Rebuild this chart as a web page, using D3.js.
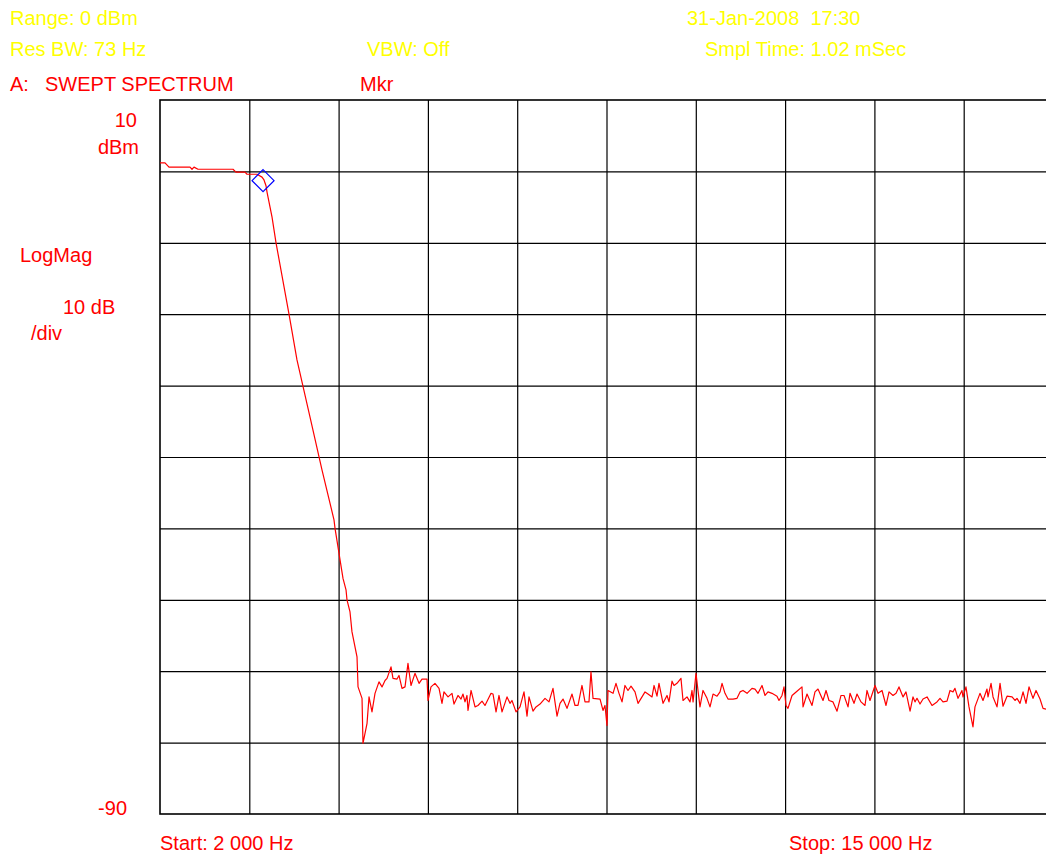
<!DOCTYPE html>
<html>
<head>
<meta charset="utf-8">
<script src="https://cdn.jsdelivr.net/npm/d3@7"></script>
<style>
  body { margin: 0; background: #fff; overflow: hidden; }
  text { font-family: "Liberation Sans", Arial, sans-serif; font-size: 20px; white-space: pre; }
</style>
</head>
<body>
<div id="graphic_area"></div>
<script>
// trace
let freqHz = [2000, 2015, 2073, 2131, 2437, 2466, 2495, 2553, 3063, 3106, 3237, 3267, 3412, 3485, 3514, 3543, 3558, 3631, 3689, 3878, 3994, 4184, 4358, 4533, 4548, 4664, 4708, 4722, 4766, 4795, 4868, 4883, 4941, 4955,
  5014, 5043, 5086, 5130, 5188, 5232, 5276, 5305, 5363, 5392, 5450, 5479, 5523, 5567, 5610, 5654, 5712, 5771, 5814, 5887, 5902, 5945, 6003, 6062, 6105, 6134, 6193, 6251, 6280, 6338, 6382, 6411, 6440, 6469, 6484, 6528, 6586, 6629, 6688, 6731, 6819, 6848, 6892, 6935, 6979,
  7052, 7095, 7124, 7183, 7241, 7299, 7343, 7372, 7430, 7474, 7532, 7605, 7663, 7721, 7780, 7823, 7867, 7925, 7998, 8042, 8085, 8143, 8187, 8245, 8274, 8304, 8406, 8449, 8478, 8507, 8522, 8595, 8638, 8682, 8726, 8769, 8813, 8857, 8915, 8959,
  9017, 9061, 9104, 9163, 9192, 9235, 9264, 9323, 9381, 9410, 9454, 9483, 9526, 9584, 9614, 9672, 9716, 9745, 9760, 9803, 9832, 9861, 9905, 9963, 10007, 10051, 10109, 10153, 10182, 10225, 10269, 10342, 10400, 10444, 10487, 10546, 10618, 10662, 10706, 10764, 10808, 10851, 10909, 10982,
  11011, 11055, 11084, 11113, 11142, 11201, 11273, 11346, 11361, 11419, 11492, 11535, 11579, 11652, 11696, 11739, 11797, 11856, 11914, 11958, 12016, 12045, 12103, 12147, 12205, 12263, 12292, 12336, 12409, 12453, 12511, 12569, 12613, 12671, 12715, 12758, 12817, 12860, 12919, 12962, 12991,
  13020, 13064, 13108, 13166, 13239, 13311, 13355, 13399, 13457, 13501, 13544, 13573, 13617, 13675, 13690, 13733, 13777, 13835, 13864, 13937, 13981, 14039, 14054, 14098, 14127, 14185, 14229, 14272, 14331, 14404, 14447, 14476, 14520, 14564, 14607, 14651, 14709, 14753, 14811, 14855, 14898, 15000];

let levelDbm = [1.2, 1.2, 1.2, 0.6, 0.6, 0.3, 0.6, 0.3, 0.3, -0.1, -0.1, -0.4, -0.4, -0.8, -1.2, -2.0, -2.9, -6.4, -10.0, -20.0, -26.4, -34.4, -41.8, -48.8, -50.0, -57.0, -58.6, -60.0, -61.7, -64.5, -68.0, -72.2, -73.8, -80.1,
  -77.3, -73.6, -75.7, -73.1, -71.5, -72.2, -71.3, -71.0, -69.4, -71.0, -71.1, -70.6, -72.4, -72.2, -68.9, -72.0, -70.3, -71.7, -71.1, -71.1, -74.1, -72.2, -71.7, -72.4, -74.5, -72.9, -73.6, -73.1, -74.6, -73.4, -73.9, -73.2, -74.3, -73.4, -75.5, -72.7, -75.0, -74.8, -74.2, -74.8, -73.1, -73.2, -75.7, -73.4, -75.7,
  -73.6, -74.5, -74.1, -75.7, -75.0, -72.9, -76.3, -73.6, -75.6, -75.0, -74.6, -73.8, -74.3, -72.4, -76.3, -74.5, -73.9, -75.2, -73.2, -74.8, -74.8, -72.0, -74.3, -74.3, -70.1, -73.8, -73.9, -75.5, -74.8, -77.6, -72.7, -73.1, -71.7, -73.1, -74.3, -72.0, -72.7, -72.1, -72.9, -74.5,
  -73.6, -72.9, -73.2, -73.6, -72.0, -73.5, -71.7, -74.5, -73.4, -74.3, -71.4, -72.0, -71.7, -71.0, -74.1, -73.6, -74.3, -72.7, -74.3, -70.3, -72.7, -75.0, -72.7, -73.8, -75.0, -73.2, -73.5, -72.9, -71.7, -73.1, -73.9, -73.9, -73.8, -72.9, -72.7, -73.1, -72.4, -72.5, -73.1, -72.0, -73.4, -72.9, -73.1, -73.5,
  -74.1, -73.4, -72.2, -74.8, -75.2, -73.4, -72.8, -72.2, -75.0, -73.2, -74.8, -72.9, -72.5, -74.1, -72.7, -74.1, -74.3, -75.6, -73.4, -73.4, -75.0, -73.1, -74.5, -73.2, -74.3, -74.8, -72.7, -74.1, -72.0, -73.1, -72.7, -74.8, -72.9, -73.4, -73.1, -72.2, -73.6, -72.9, -75.6, -73.6, -74.3,
  -73.8, -74.6, -73.9, -73.6, -74.8, -74.3, -73.8, -74.3, -74.2, -72.7, -72.9, -72.4, -73.8, -72.7, -73.6, -72.2, -75.0, -77.8, -75.0, -73.1, -74.1, -72.5, -73.6, -71.7, -73.6, -75.0, -71.7, -74.9, -73.5, -73.6, -74.1, -73.8, -74.5, -72.9, -74.5, -72.2, -73.8, -72.7, -73.9, -75.2, -75.3, -75.3];

let markerHz = 3500;
let markerDbm = -1.3;

let startHz = 2000;
let stopHz = 15000;
let refDbm = 10;
let bottomDbm = -90;
let divisions = 10;

let headerLabels = [
  {text: "Range: 0 dBm", x: 10, y: 25, color: "#ffff00"},
  {text: "31-Jan-2008  17:30", x: 687, y: 25, color: "#ffff00"},
  {text: "Res BW: 73 Hz", x: 10, y: 56, color: "#ffff00"},
  {text: "VBW: Off", x: 367, y: 56, color: "#ffff00"},
  {text: "Smpl Time: 1.02 mSec", x: 705, y: 56, color: "#ffff00"},
  {text: "A:", x: 10, y: 91, color: "#ff0000"},
  {text: "SWEPT SPECTRUM", x: 45, y: 91, color: "#ff0000"},
  {text: "Mkr", x: 360, y: 91, color: "#ff0000"},
  {text: "LogMag", x: 20, y: 262, color: "#ff0000"},
  {text: "10 dB", x: 63, y: 314, color: "#ff0000"},
  {text: "/div", x: 31, y: 340, color: "#ff0000"},
  {text: "Start: 2 000 Hz", x: 160, y: 850, color: "#ff0000"},
  {text: "Stop: 15 000 Hz", x: 789, y: 850, color: "#ff0000"}
];

(function() {
  let width = 1046;
  let height = 856;
  let left = 160, top = 100, right = 1053, bottom = 814;

  let svg = d3.select("#graphic_area").append("svg")
    .attr("width", width)
    .attr("height", height)
    .style("display", "block");

  let xScale = d3.scaleLinear().domain([startHz, stopHz]).range([left, right]);
  let yScale = d3.scaleLinear().domain([bottomDbm, refDbm]).range([bottom, top]);

  // graticule
  let xStep = (stopHz - startHz) / divisions;
  let yStep = (refDbm - bottomDbm) / divisions;
  let xGrid = d3.range(1, divisions).map(i => startHz + i * xStep);
  let yGrid = d3.range(1, divisions).map(i => bottomDbm + i * yStep);

  svg.append("g")
    .attr("transform", "translate(0," + bottom + ")")
    .call(d3.axisBottom(xScale).tickValues(xGrid).tickSize(-(bottom - top)).tickFormat(""))
    .call(g => g.select(".domain").remove())
    .selectAll("line").attr("stroke", "#000").attr("stroke-width", 1.2);

  svg.append("g")
    .attr("transform", "translate(" + left + ",0)")
    .call(d3.axisLeft(yScale).tickValues(yGrid).tickSize(-(right - left)).tickFormat(""))
    .call(g => g.select(".domain").remove())
    .selectAll("line").attr("stroke", "#000").attr("stroke-width", 1.2);

  svg.append("rect")
    .attr("x", left).attr("y", top)
    .attr("width", right - left).attr("height", bottom - top)
    .attr("fill", "none")
    .attr("stroke", "#000")
    .attr("stroke-width", 1.6);

  // scale labels
  svg.append("text").attr("x", 137).attr("y", 127).attr("text-anchor", "end").attr("fill", "#ff0000").text(refDbm);
  svg.append("text").attr("x", 139).attr("y", 154).attr("text-anchor", "end").attr("fill", "#ff0000").text("dBm");
  svg.append("text").attr("x", 127).attr("y", 815).attr("text-anchor", "end").attr("fill", "#ff0000").text(bottomDbm);

  svg.selectAll(".hdr")
    .data(headerLabels)
    .enter().append("text")
    .attr("class", "hdr")
    .attr("x", d => d.x)
    .attr("y", d => d.y)
    .attr("fill", d => d.color)
    .text(d => d.text);

  // trace
  let trace = freqHz.map((f, i) => ({f: f, v: levelDbm[i]}));
  let line = d3.line()
    .x(d => xScale(d.f))
    .y(d => yScale(d.v));

  svg.append("path")
    .datum(trace)
    .attr("d", line)
    .attr("fill", "none")
    .attr("stroke", "#ff0000")
    .attr("stroke-width", 1.2)
    .attr("stroke-linejoin", "round");

  // marker diamond
  let mx = xScale(markerHz), my = yScale(markerDbm), r = 11;
  svg.append("path")
    .attr("d", "M" + mx + "," + (my - r) + "L" + (mx + r) + "," + my + "L" + mx + "," + (my + r) + "L" + (mx - r) + "," + my + "Z")
    .attr("fill", "none")
    .attr("stroke", "#0000ff")
    .attr("stroke-width", 1.2);
})();
</script>
</body>
</html>
